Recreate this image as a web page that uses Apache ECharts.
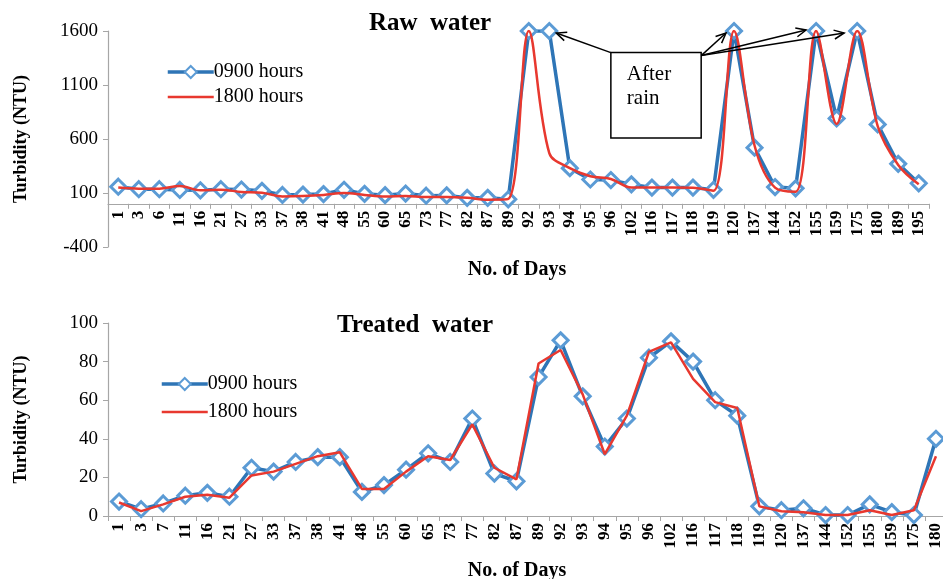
<!DOCTYPE html>
<html><head><meta charset="utf-8">
<script src="https://cdn.jsdelivr.net/npm/echarts@6/dist/echarts.min.js"></script>
<style>html,body{margin:0;padding:0;background:#fff}#c{width:943px;height:579px}</style>
</head><body><div id="c"></div>
<script>
// ---------- data ----------
const rawDays = ['1','3','6','11','16','21','27','33','37','38','41','48','55','60','65','73','77','82','87','89',
  '92','93','94','95','96','102','116','117','118','119','120','137','144','152','155','159','175','180','189','195'];
const raw0900 = [158,135,135,128,125,135,132,120,82,85,90,130,92,80,95,75,78,55,55,42,
  1600,1600,330,225,220,180,150,150,150,130,1600,520,155,143,1600,790,1600,735,370,190];
const raw1800 = [150,140,140,165,125,130,110,103,68,72,82,100,82,68,72,62,62,55,38,45,
  1600,470,330,255,230,150,150,150,148,120,1600,540,150,112,1600,740,1600,720,360,180];
const rawTicks = [-400,100,600,1100,1600];

const treatedDays = ['1','3','7','11','16','21','27','33','37','38','41','48','55','60','65','73','77','82','87','89',
  '92','93','94','95','96','102','116','117','118','119','120','137','144','152','155','159','175','180'];
const treated0900 = [7.5,3.5,6.5,10.5,12,10,25,23,28,30.5,30.5,12.5,16,24,32.5,28,50.5,22,18,72,
  91,62,36,50.5,82,90.5,80,60,52,5,3,4,0.5,0.5,6,2,0.5,40];
const treated1800 = [7,2.5,6,10,11,9.5,21,23,27,31,33,14,14,23,31,29,47.5,25,19,79,
  86,63,32,52,85,90,71,59,56,5,2.5,2,0.5,0.5,3,0.5,3,31];
const treatedTicks = [0,20,40,60,80,100];

// ---------- styles ----------
const SERIF = '"Liberation Serif","Times New Roman",serif';
const BLUE = '#2E75B6', BLUE_MK = '#5B9BD5', RED = '#E8382F', AX = '#A6A6A6';
const RAW_MIN = -400, RAW_MAX = 1600, RAW_H = 216;

function xAxisCfg(gridIndex, data, offset) {
  return {
    type: 'category', gridIndex, data, boundaryGap: true, offset,
    axisLine: { onZero: false, lineStyle: { color: AX, width: 1.2 } },
    axisTick: { show: true, length: 5, lineStyle: { color: AX } },
    axisLabel: { interval: 0, rotate: 90, margin: 7, fontFamily: SERIF, fontSize: 17, fontWeight: 'bold', color: '#000' },
    splitLine: { show: false }
  };
}
function yAxisCfg(gridIndex, min, max, ticks, nameGap) {
  return {
    type: 'value', gridIndex, min, max,
    name: 'Turbidity (NTU)', nameLocation: 'middle', nameRotate: 90, nameGap,
    nameTextStyle: { fontFamily: SERIF, fontSize: 18, fontWeight: 'bold', color: '#000' },
    axisLine: { show: true, lineStyle: { color: AX, width: 1.2 } },
    axisTick: { show: true, length: 5, customValues: ticks, lineStyle: { color: AX } },
    axisLabel: { customValues: ticks, margin: 10, fontFamily: SERIF, fontSize: 19, color: '#000',
      formatter: v => String(v) },
    splitLine: { show: false }
  };
}
function blueSeries(x, y, data) {
  return {
    name: '0900 hours', type: 'line', xAxisIndex: x, yAxisIndex: y, data,
    symbol: 'diamond', symbolSize: 15, showAllSymbol: true, color: BLUE,
    itemStyle: { color: '#fff', borderColor: BLUE_MK, borderWidth: 3 },
    lineStyle: { color: BLUE, width: 3.5 }, z: 2, animation: false
  };
}
function redSeries(x, y, data, smooth) {
  return {
    name: '1800 hours', type: 'line', xAxisIndex: x, yAxisIndex: y, data, smooth,
    symbol: 'none', color: RED, lineStyle: { color: RED, width: 2.5 }, z: 3, animation: false
  };
}
function legendCfg(left, top, gap) {
  return {
    left, top, orient: 'vertical', itemGap: gap, itemWidth: 46, itemHeight: 15,
    data: [
      { name: '0900 hours', lineStyle: { width: 3.5 } },
      { name: '1800 hours', itemStyle: { opacity: 0 }, lineStyle: { width: 2.5 } }
    ],
    textStyle: { fontFamily: SERIF, fontSize: 20, color: '#000', padding: [0, 0, 0, -5] }
  };
}

const chart = echarts.init(document.getElementById('c'), null, { renderer: 'canvas' });
// x axis of the raw-water chart sits on the zero line
const rawZeroOffset = -(0 - RAW_MIN) / (RAW_MAX - RAW_MIN) * RAW_H;
chart.setOption({
  animation: false,
  backgroundColor: '#fff',
  title: [
    { text: 'Raw  water', left: 425, top: 6, textAlign: 'center',
      textStyle: { fontFamily: SERIF, fontSize: 25, fontWeight: 'bold', color: '#000' } },
    { text: 'Treated  water', left: 410, top: 308, textAlign: 'center',
      textStyle: { fontFamily: SERIF, fontSize: 25, fontWeight: 'bold', color: '#000' } },
    { text: 'No. of Days', left: 512, top: 255, textAlign: 'center',
      textStyle: { fontFamily: SERIF, fontSize: 20, fontWeight: 'bold', color: '#000' } },
    { text: 'No. of Days', left: 512, top: 556, textAlign: 'center',
      textStyle: { fontFamily: SERIF, fontSize: 20, fontWeight: 'bold', color: '#000' } }
  ],
  legend: [legendCfg(161, 57, 5), legendCfg(155, 369, 8)],
  grid: [
    { left: 108, width: 821, top: 31, height: RAW_H },
    { left: 108, width: 839, top: 323, height: 193, outerBoundsMode: 'none' }
  ],
  xAxis: [xAxisCfg(0, rawDays, rawZeroOffset), xAxisCfg(1, treatedDays, 0)],
  yAxis: [yAxisCfg(0, RAW_MIN, RAW_MAX, rawTicks, 78), yAxisCfg(1, 0, 100, treatedTicks, 78)],
  series: [
    blueSeries(0, 0, raw0900), redSeries(0, 0, raw1800, 0.35),
    blueSeries(1, 1, treated0900), redSeries(1, 1, treated1800, false)
  ]
});

// ---------- "After rain" annotation anchored to the data axes ----------
function px(idx, val) { return chart.convertToPixel({ xAxisIndex: 0, yAxisIndex: 0 }, [idx, val]); }
const step = px(1, 0)[0] - px(0, 0)[0];
const boxTL = px(24, 1400);
const boxBR = px(28, 610);
const bx0 = boxTL[0], by0 = boxTL[1], bx1 = boxBR[0] + 0.4 * step, by1 = boxBR[1];
const peak = i => px(i, 1600);
function arrow(from, to) {
  const ang = Math.atan2(to[1] - from[1], to[0] - from[0]);
  const L = 11, a = 0.42;
  const h1 = [to[0] - L * Math.cos(ang - a), to[1] - L * Math.sin(ang - a)];
  const h2 = [to[0] - L * Math.cos(ang + a), to[1] - L * Math.sin(ang + a)];
  return [
    { type: 'line', shape: { x1: from[0], y1: from[1], x2: to[0], y2: to[1] }, style: { stroke: '#000', lineWidth: 1.5 }, z: 10 },
    { type: 'polyline', shape: { points: [h1, to, h2] }, style: { stroke: '#000', lineWidth: 1.5, fill: null }, z: 10 }
  ];
}
const p93 = peak(21), p120 = peak(30), p155 = peak(34), p175 = peak(36);
const fromR = [bx1, by0 + 3];
const g = [
  { type: 'rect', shape: { x: bx0, y: by0, width: bx1 - bx0, height: by1 - by0 }, style: { fill: '#fff', stroke: '#000', lineWidth: 1.5 }, z: 9 },
  { type: 'text', left: bx0 + 16, top: by0 + 10, style: { text: 'After\nrain', fontFamily: SERIF, fontSize: 21, lineHeight: 24, fill: '#000' }, z: 11 }
]
  .concat(arrow([bx0, by0], [p93[0] + 7, p93[1] + 2]))
  .concat(arrow(fromR, [p120[0] - 8, p120[1] + 2]))
  .concat(arrow(fromR, [p155[0] - 10, p155[1] - 1]))
  .concat(arrow(fromR, [p175[0] - 13, p175[1] + 2]));
chart.setOption({ graphic: g });
</script>
</body></html>
